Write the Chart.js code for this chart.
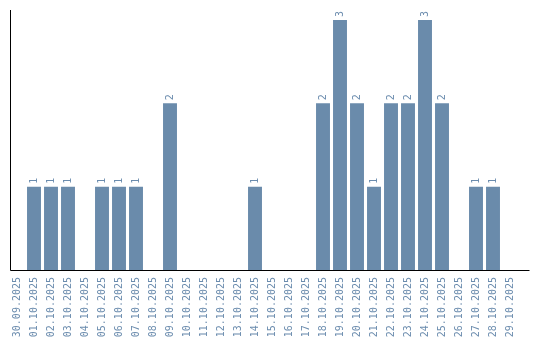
<!DOCTYPE html>
<html>
<head>
<meta charset="utf-8">
<script src="https://cdn.jsdelivr.net/npm/chart.js@4"></script>
<style>
  html, body { margin: 0; padding: 0; background: #fff; }
  #wrap { width: 540px; height: 340px; }
</style>
</head>
<body>
<div id="wrap"><canvas id="dayChart" width="540" height="340"></canvas></div>
<script>
// Tage (Kategorien)
const days = [
    '30.09.2025', '01.10.2025', '02.10.2025', '03.10.2025', '04.10.2025',
    '05.10.2025', '06.10.2025', '07.10.2025', '08.10.2025', '09.10.2025',
    '10.10.2025', '11.10.2025', '12.10.2025', '13.10.2025', '14.10.2025',
    '15.10.2025', '16.10.2025', '17.10.2025', '18.10.2025', '19.10.2025',
    '20.10.2025', '21.10.2025', '22.10.2025', '23.10.2025', '24.10.2025',
    '25.10.2025', '26.10.2025', '27.10.2025', '28.10.2025', '29.10.2025'
];

// Anzahl pro Tag
const counts = [
    0, 1, 1, 1, 0,
    1, 1, 1, 0, 2,
    0, 0, 0, 0, 1,
    0, 0, 0, 2, 3,
    2, 1, 2, 2, 3,
    2, 0, 1, 1, 0
];

const barColor = '#6a8bab';
const textColor = '#6b8cae';
const monoFont = '"DejaVu Sans Mono", monospace';

// Achsenlinien (links und unten) zeichnen
const axisLines = {
    id: 'axisLines',
    afterDraw(chart) {
        const { ctx, chartArea } = chart;
        ctx.save();
        ctx.strokeStyle = '#000';
        ctx.lineWidth = 1;
        ctx.beginPath();
        ctx.moveTo(chartArea.left + 2, chartArea.top);
        ctx.lineTo(chartArea.left + 2, chartArea.bottom + 0.5);
        ctx.lineTo(chartArea.right + 11, chartArea.bottom + 0.5);
        ctx.stroke();
        ctx.restore();
    }
};

// Werte senkrecht über den Balken
const valueLabels = {
    id: 'valueLabels',
    afterDatasetsDraw(chart) {
        const { ctx } = chart;
        const meta = chart.getDatasetMeta(0);
        ctx.save();
        ctx.fillStyle = textColor;
        ctx.font = '10px ' + monoFont;
        ctx.textAlign = 'left';
        ctx.textBaseline = 'middle';
        meta.data.forEach((bar, i) => {
            const v = counts[i];
            if (!v) return;
            ctx.save();
            ctx.translate(bar.x, bar.y - 3);
            ctx.rotate(-Math.PI / 2);
            ctx.fillText(String(v), 0, 0);
            ctx.restore();
        });
        ctx.restore();
    }
};

const ctx = document.getElementById('dayChart').getContext('2d');
new Chart(ctx, {
    type: 'bar',
    data: {
        labels: days,
        datasets: [{
            data: counts,
            backgroundColor: barColor,
            borderWidth: 0,
            barPercentage: 0.82,
            categoryPercentage: 1.0
        }]
    },
    options: {
        responsive: false,
        animation: false,
        plugins: {
            legend: { display: false },
            tooltip: { enabled: false }
        },
        scales: {
            x: {
                offset: true,
                grid: { display: false, drawTicks: false },
                border: { display: false },
                afterFit: function(scale) {
                    scale.height = 70;
                },
                ticks: {
                    color: textColor,
                    font: { family: monoFont, size: 10 },
                    minRotation: 90,
                    maxRotation: 90,
                    autoSkip: false,
                    padding: 7
                }
            },
            y: {
                display: false,
                min: 0,
                max: 3.12
            }
        },
        layout: {
            padding: { top: 10, left: 8.5, right: 21.5, bottom: 0 }
        }
    },
    plugins: [axisLines, valueLabels]
});
</script>
</body>
</html>
